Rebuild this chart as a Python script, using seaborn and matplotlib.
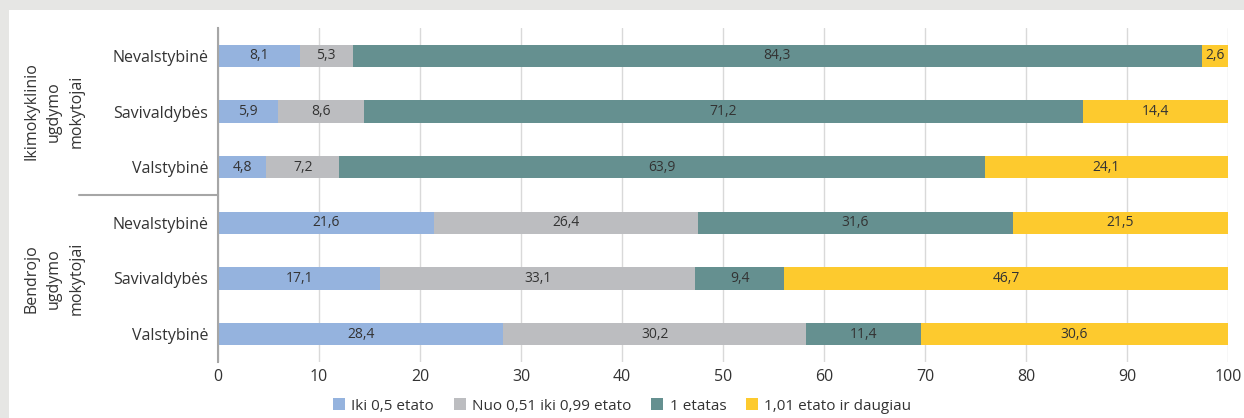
import pandas as pd
import seaborn as sns
import matplotlib.pyplot as plt
from matplotlib.patches import Patch, Rectangle
from matplotlib.transforms import blended_transform_factory

# Data (percent labels as published; bars are normalised to 100 %)
rows = ["Nevalstybinė", "Savivaldybės", "Valstybinė",
        "Nevalstybinė", "Savivaldybės", "Valstybinė"]
groups = ["Ikimokyklinio\nugdymo\nmokytojai", "Bendrojo\nugdymo\nmokytojai"]
series = ["Iki 0,5 etato", "Nuo 0,51 iki 0,99 etato", "1 etatas", "1,01 etato ir daugiau"]
iki_05 = [8.1, 5.9, 4.8, 21.6, 17.1, 28.4]
nuo_051 = [5.3, 8.6, 7.2, 26.4, 33.1, 30.2]
etatas_1 = [84.3, 71.2, 63.9, 31.6, 9.4, 11.4]
daugiau = [2.6, 14.4, 24.1, 21.5, 46.7, 30.6]
colors = ["#95b3de", "#bcbdc0", "#659090", "#fdca2e"]

sns.set_theme(style="white")
plt.rcParams["font.family"] = ["Open Sans", "DejaVu Sans"]
text_col = "#333333"

df = pd.DataFrame({"row": [f"r{i}" for i in range(len(rows))],
                   series[0]: iki_05, series[1]: nuo_051,
                   series[2]: etatas_1, series[3]: daugiau})
vals = df[series]
share = vals.div(vals.sum(axis=1), axis=0) * 100
cum = share.cumsum(axis=1)

fig = plt.figure(figsize=(12.44, 4.18), dpi=100, facecolor="#e6e6e4")
fig.add_artist(Rectangle((9 / 1244, 0), 1, 1 - 10 / 418, transform=fig.transFigure,
                         facecolor="white", edgecolor="none", zorder=-5))
ax = fig.add_axes([218 / 1244, 1 - 362 / 418, 1010 / 1244, 334 / 418])

# draw cumulative bars from the longest to the shortest so each segment shows
for s, c in reversed(list(zip(series, colors))):
    sns.barplot(x=cum[s], y=df["row"], orient="h", color=c, width=0.4,
                saturation=1, linewidth=0, ax=ax, zorder=3)

for i in range(len(rows)):
    for s in series:
        mid = cum.loc[i, s] - share.loc[i, s] / 2
        ax.text(mid, i, f"{vals.loc[i, s]:.1f}".replace(".", ","),
                ha="center", va="center", fontsize=10, color=text_col, zorder=4)

ax.set_xlim(0, 100)
ax.set_ylim(5.5, -0.5)
ax.set_xticks(range(0, 101, 10))
ax.set_yticks(range(len(rows)))
ax.set_yticklabels(rows)
ax.set_xlabel("")
ax.set_ylabel("")
ax.tick_params(axis="both", length=0, labelsize=11.5, colors=text_col)
ax.tick_params(axis="y", pad=7)
ax.tick_params(axis="x", pad=5)
ax.grid(axis="x", color="#d9d9d9", linewidth=1, zorder=0)
ax.set_axisbelow(True)
for side in ["top", "right", "bottom"]:
    ax.spines[side].set_visible(False)
ax.spines["left"].set_color("#a6a6a6")
ax.spines["left"].set_linewidth(1.5)
ax.spines["left"].set_zorder(5)

# group separator and group labels
tr = blended_transform_factory(ax.transAxes, ax.transData)
ax.plot([-139 / 1010, 0], [2.5, 2.5], color="#a6a6a6", linewidth=1.5,
        transform=tr, clip_on=False)
trf = blended_transform_factory(fig.transFigure, ax.transData)
for g, yc in zip(groups, [1, 4]):
    ax.text(54 / 1244, yc, g, rotation=90, ha="center", va="center",
            fontsize=11.5, color=text_col, transform=trf, linespacing=1.55)

handles = [Patch(facecolor=c, edgecolor="none") for c in colors]
fig.legend(handles, series, loc="center", bbox_to_anchor=(0.5, 1 - 406 / 418),
           ncol=4, frameon=False, fontsize=11, handlelength=0.8, handleheight=0.8,
           handletextpad=0.4, columnspacing=1.3, labelcolor=text_col)

fig.savefig("out.png", dpi=100, facecolor=fig.get_facecolor())
